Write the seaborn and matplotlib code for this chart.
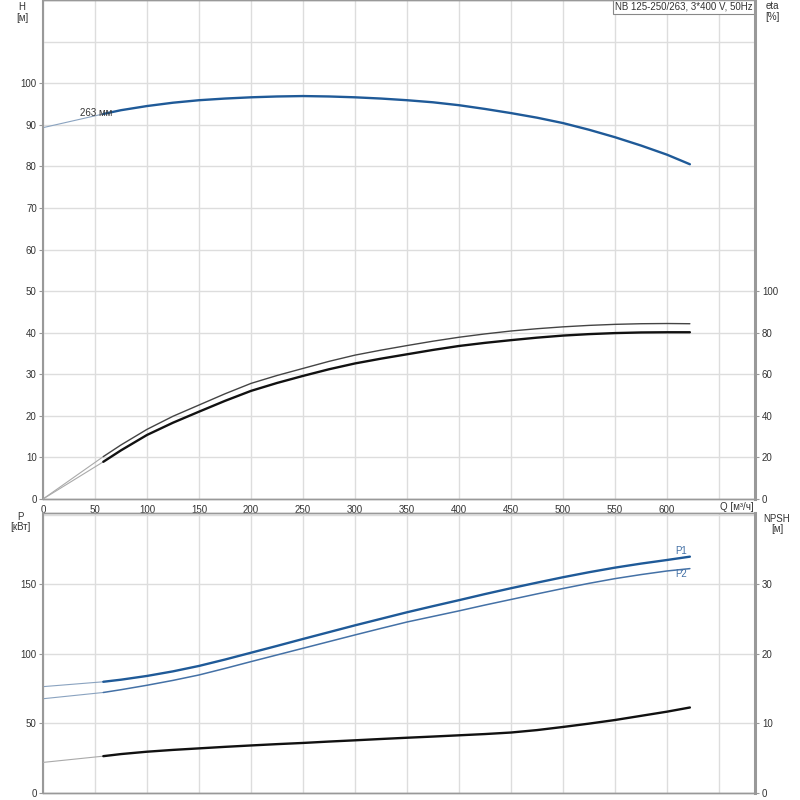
import numpy as np
import pandas as pd
import seaborn as sns
import matplotlib.pyplot as plt
from matplotlib.ticker import FixedLocator

# --- данные ---
q_ext = [0, 58]
q = [58, 75, 100, 125, 150, 175, 200, 225, 250, 275, 300, 325, 350, 375,
     400, 425, 450, 475, 500, 525, 550, 575, 600, 622]

h_ext = [89.3, 92.6]
h = [92.6, 93.5, 94.5, 95.3, 95.9, 96.3, 96.6, 96.8, 96.9, 96.8, 96.6, 96.3,
     95.9, 95.4, 94.7, 93.8, 92.8, 91.7, 90.4, 88.8, 87.0, 85.0, 82.8, 80.5]

eta_up_ext = [0, 20.4]
eta_up = [20.4, 26.0, 33.5, 39.8, 45.2, 50.6, 55.6, 59.4, 62.8, 66.2, 69.2, 71.6,
          73.8, 75.9, 77.8, 79.4, 80.8, 81.9, 82.8, 83.5, 84.0, 84.3, 84.4, 84.3]
eta_lo_ext = [0, 17.9]
eta_lo = [17.9, 23.4, 30.8, 36.7, 42.0, 47.2, 52.0, 55.8, 59.2, 62.4, 65.2, 67.5,
          69.6, 71.7, 73.6, 75.1, 76.4, 77.6, 78.6, 79.3, 79.8, 80.1, 80.2, 80.2]

p1_ext = [76.5, 80.0]
p1 = [80.0, 81.5, 84.2, 87.5, 91.4, 96.0, 100.9, 105.8, 110.8, 115.7, 120.6, 125.3,
      130.0, 134.4, 138.7, 143.1, 147.3, 151.3, 155.2, 158.8, 162.1, 165.0, 167.6, 170.0]
p2_ext = [67.8, 72.3]
p2 = [72.3, 74.3, 77.5, 81.0, 84.9, 89.6, 94.5, 99.3, 104.1, 108.9, 113.7, 118.4,
      123.0, 127.0, 131.0, 135.2, 139.2, 143.2, 147.1, 150.8, 154.2, 157.1, 159.7, 161.4]

npsh_ext = [4.4, 5.3]
npsh = [5.3, 5.6, 5.94, 6.2, 6.42, 6.64, 6.84, 7.03, 7.2, 7.4, 7.58, 7.77,
        7.95, 8.12, 8.3, 8.48, 8.7, 9.05, 9.5, 9.98, 10.5, 11.1, 11.7, 12.3]

x_ticks = list(range(0, 651, 50))
h_ticks = list(range(0, 101, 10))
eta_ticks = list(range(0, 101, 20))
p_ticks = [0, 50, 100, 150]
npsh_ticks = [0, 10, 20, 30]

title = "NB 125-250/263, 3*400 V, 50Hz"

sns.set_theme(style="whitegrid")
plt.rcParams['font.family'] = ['Liberation Sans', 'DejaVu Sans']

GRID = '#dddddd'
SPINE = '#999999'
TXT = '#333333'
BLUE = '#1f5a98'
BLUE2 = '#4471a6'
EXT_B = '#8aa3c0'
EXT_K = '#aaaaaa'

fig = plt.figure(figsize=(8, 8), dpi=100)
ax_h = fig.add_axes([0.05375, 0.37625, 0.89, 0.62375])
ax_eta = ax_h.twinx()
ax_p = fig.add_axes([0.05375, 0.00875, 0.89, 0.35])
ax_n = ax_p.twinx()


def draw(ax, xs, ys, color, lw):
    sns.lineplot(x=xs, y=ys, ax=ax, color=color, linewidth=lw, sort=False,
                 estimator=None)


# верхний график: напор и КПД
draw(ax_h, q_ext, h_ext, EXT_B, 0.8)
draw(ax_h, q, h, BLUE, 1.7)
draw(ax_eta, q_ext, eta_up_ext, EXT_K, 0.8)
draw(ax_eta, q_ext, eta_lo_ext, EXT_K, 0.8)
draw(ax_eta, q, eta_up, '#444444', 1.0)
draw(ax_eta, q, eta_lo, '#111111', 1.7)
ax_h.text(36, 92.8, "263 мм", fontsize=7, color=TXT, va='center', ha='left')

# нижний график: мощность и NPSH
draw(ax_p, q_ext, p1_ext, EXT_B, 0.8)
draw(ax_p, q_ext, p2_ext, EXT_B, 0.8)
draw(ax_p, q, p1, BLUE, 1.7)
draw(ax_p, q, p2, BLUE2, 1.1)
draw(ax_n, q_ext, npsh_ext, EXT_K, 0.8)
draw(ax_n, q, npsh, '#111111', 1.7)
ax_p.text(q[-1] - 8, 173.8, "P1", fontsize=7, color=BLUE2, ha='center', va='center')
ax_p.text(q[-1] - 8, 157.3, "P2", fontsize=7, color=BLUE2, ha='center', va='center')

XMAX = 684.6
for ax in (ax_h, ax_eta, ax_p, ax_n):
    ax.set_xlim(0, XMAX)
    ax.set_xlabel('')
    ax.set_ylabel('')
    ax.set_facecolor('none')
    for s in ax.spines.values():
        s.set_color(SPINE)
        s.set_linewidth(1.0)

ax_h.set_ylim(0, 120)
ax_eta.set_ylim(0, 240)
ax_p.set_ylim(0, 201.4)
ax_n.set_ylim(0, 40.28)

for ax in (ax_h, ax_p):
    ax.set_xticks(x_ticks)
    ax.grid(True, color=GRID, linewidth=1.0)
    ax.tick_params(axis='both', length=3, width=0.8, color=SPINE,
                   labelsize=7, labelcolor=TXT, pad=1.5)
    ax.spines['left'].set_linewidth(1.5)
    ax.spines['right'].set_visible(False)
for ax in (ax_eta, ax_n):
    ax.grid(False)
    ax.tick_params(axis='y', length=3, width=0.8, color=SPINE,
                   labelsize=7, labelcolor=TXT, pad=2)
    ax.spines['right'].set_linewidth(2.2)
    ax.spines['left'].set_visible(False)

ax_h.set_yticks(h_ticks)
ax_h.yaxis.set_minor_locator(FixedLocator([110]))
ax_h.grid(True, which='minor', axis='y', color=GRID, linewidth=1.0)
ax_h.tick_params(which='minor', length=0)
ax_h.set_xticklabels([str(v) if v < 650 else '' for v in x_ticks])
ax_eta.set_yticks(eta_ticks)

ax_p.set_yticks(p_ticks)
ax_p.yaxis.set_minor_locator(FixedLocator([200]))
ax_p.grid(True, which='minor', axis='y', color=GRID, linewidth=1.0)
ax_p.tick_params(which='minor', length=0)
ax_p.set_xticklabels([])
ax_p.tick_params(axis='x', length=0)
ax_n.set_yticks(npsh_ticks)

# подписи осей (центры по вертикали в пикселях)
fs = 7


def label(x_px, y_px, s):
    fig.text(x_px / 800, 1 - y_px / 800, s, fontsize=fs, color=TXT,
             ha='center', va='center')


label(22, 6.5, "H")
label(22, 18, "[м]")
label(772, 6, "eta")
label(772, 17.5, "[%]")
label(20, 517, "P")
label(20, 527, "[кВт]")
label(777, 519, "NPSH")
label(777, 529, "[м]")
label(737, 507.5, "Q [м³/ч]")

ax_h.text(0.997, 0.997, title, transform=ax_h.transAxes, fontsize=7, color=TXT,
          ha='right', va='top',
          bbox=dict(boxstyle='square,pad=0.25', fc='white', ec='#888888', lw=0.8))

fig.savefig("out.png", dpi=100)
